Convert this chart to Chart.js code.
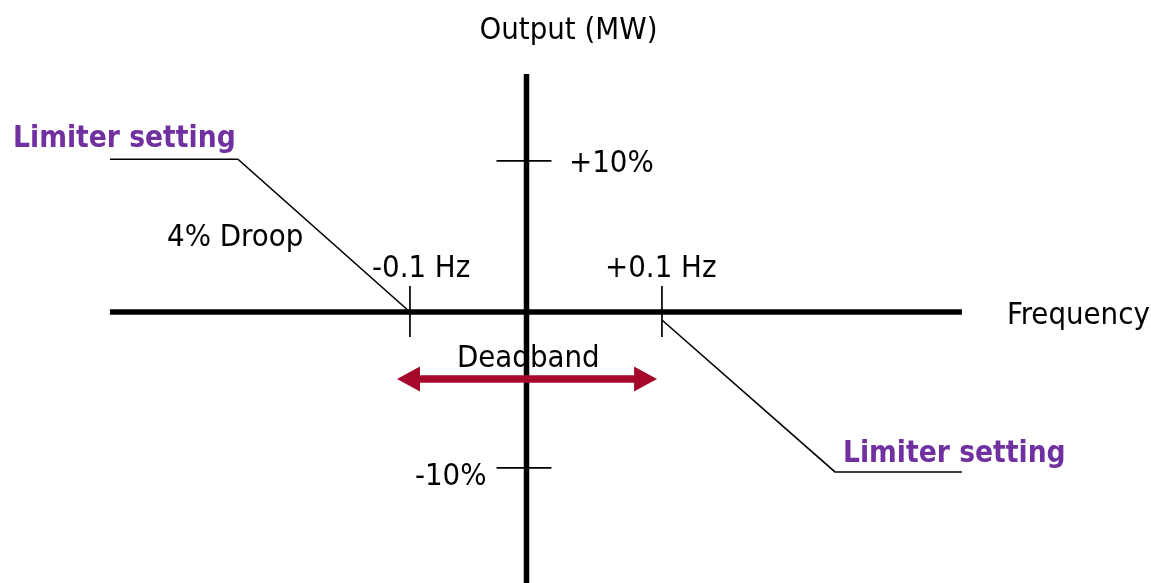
<!DOCTYPE html>
<html><head><meta charset="utf-8">
<script src="https://cdn.jsdelivr.net/npm/chart.js@4/dist/chart.umd.min.js"></script>
<style>html,body{margin:0;padding:0;background:#fff;}canvas{display:block;}</style>
</head><body>
<canvas id="c" width="1151" height="583"></canvas>
<script>
// Frequency deviation (Hz, diagram scale) and output change (%)
const freqAxis = [-0.3306, 0.3456];
const outputAxis = [15.5, -18];
const freqTicks = [-0.0925, 0.1075];
const freqTickLabels = ['-0.1 Hz', '+0.1 Hz'];
const outputTicks = [9.84, -10.16];
const outputTickLabels = ['+10%', '-10%'];
const droopLowX = [-0.3306, -0.229, -0.0925];
const droopLowY = [9.95, 9.95, 0];
const droopHighX = [0.1075, 0.2448, 0.3456];
const droopHighY = [-0.52, -10.42, -10.42];
const deadbandArrowX = [-0.1028, 0.1036];
const deadbandArrowY = -4.365;
const texts = ['Output (MW)', 'Frequency', 'Deadband', '4% Droop', 'Limiter setting', 'Limiter setting'];
const textX = [0.0333, 0.3813, -0.0552, -0.2853, -0.4075, 0.2512];
const textY = [17.785, -0.78, -3.583, 4.30, 10.75, -9.77];

const pts = (xs, ys) => xs.map((x, i) => ({x, y: Array.isArray(ys) ? ys[i] : ys}));
const FONT = '"DejaVu Sans Condensed", "DejaVu Sans", sans-serif';

const datasets = [];
const line = (data, w, color) => datasets.push({data, borderColor: color || '#000', borderWidth: w, showLine: true, pointRadius: 0, fill: false, tension: 0});
line(pts(freqAxis, [0, 0]), 5.5);
line(pts([0, 0], outputAxis), 5.5);
freqTicks.forEach(f => line(pts([f, f], [1.69, -1.63]), 1.7));
outputTicks.forEach(o => line(pts([-0.0238, 0.0198], [o, o]), 1.7));
line(pts(droopLowX, droopLowY), 1.6);
line(pts(droopHighX, droopHighY), 1.6);

const labelPlugin = {
  id: 'labels',
  afterDatasetsDraw(chart) {
    const ctx = chart.ctx, xs = chart.scales.x, ys = chart.scales.y;
    // deadband double arrow
    const y = ys.getPixelForValue(deadbandArrowY);
    const x1 = xs.getPixelForValue(deadbandArrowX[0]);
    const x2 = xs.getPixelForValue(deadbandArrowX[1]);
    const hl = 23, hh = 12.5;
    ctx.save();
    ctx.fillStyle = '#a5082b';
    ctx.strokeStyle = '#a5082b';
    ctx.lineWidth = 7.5;
    ctx.beginPath(); ctx.moveTo(x1 + hl - 2, y); ctx.lineTo(x2 - hl + 2, y); ctx.stroke();
    ctx.beginPath(); ctx.moveTo(x1, y); ctx.lineTo(x1 + hl, y - hh); ctx.lineTo(x1 + hl, y + hh); ctx.closePath(); ctx.fill();
    ctx.beginPath(); ctx.moveTo(x2, y); ctx.lineTo(x2 - hl, y - hh); ctx.lineTo(x2 - hl, y + hh); ctx.closePath(); ctx.fill();
    ctx.restore();

    ctx.save();
    ctx.textBaseline = 'alphabetic';
    const draw = (t, x, yv, opts) => {
      ctx.font = (opts.bold ? 'bold ' : '') + opts.size + 'px ' + FONT;
      ctx.fillStyle = opts.color || '#000';
      ctx.textAlign = opts.align || 'left';
      ctx.fillText(t, xs.getPixelForValue(x), ys.getPixelForValue(yv));
    };
    const R = 30.8, B = 29.6;
    draw(freqTickLabels[0], -0.1226, 2.28, {size: R});
    draw(freqTickLabels[1], 0.0623, 2.28, {size: R});
    draw(outputTickLabels[0], 0.0337, 9.12, {size: R});
    draw(outputTickLabels[1], -0.0885, -11.27, {size: R});
    draw(texts[0], textX[0], textY[0], {size: R, align: 'center'});
    draw(texts[1], textX[1], textY[1], {size: R});
    draw(texts[2], textX[2], textY[2], {size: R});
    draw(texts[3], textX[3], textY[3], {size: R});
    draw(texts[4], textX[4], textY[4], {size: B, bold: true, color: '#7030a0'});
    draw(texts[5], textX[5], textY[5], {size: B, bold: true, color: '#7030a0'});
    ctx.restore();
  }
};

new Chart(document.getElementById('c'), {
  type: 'scatter',
  data: {datasets},
  options: {
    responsive: false,
    animation: false,
    devicePixelRatio: 1,
    layout: {padding: 0},
    plugins: {legend: {display: false}, tooltip: {enabled: false}},
    scales: {
      x: {type: 'linear', min: -0.41786, max: 0.49563, display: false},
      y: {type: 'linear', min: -17.655, max: 20.326, display: false}
    }
  },
  plugins: [labelPlugin]
});
</script>
</body></html>
